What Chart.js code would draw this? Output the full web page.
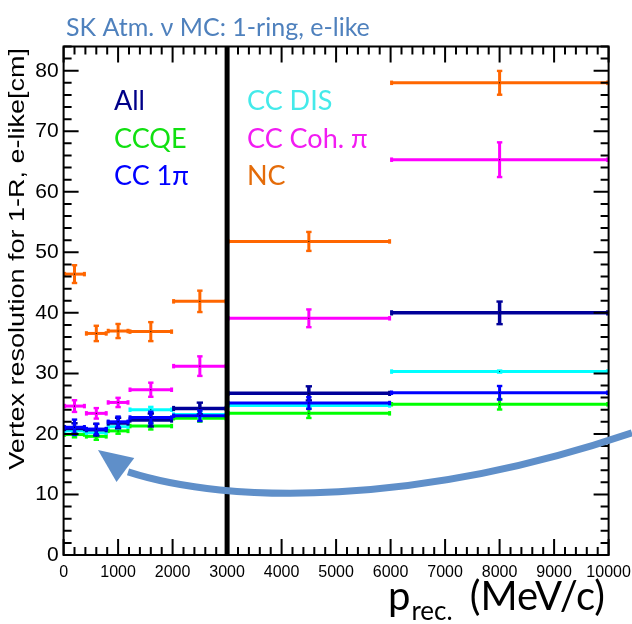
<!DOCTYPE html>
<html>
<head>
<meta charset="utf-8">
<script src="https://cdn.jsdelivr.net/npm/chart.js@4/dist/chart.umd.min.js"></script>
<style>
  html, body { margin: 0; padding: 0; background: #ffffff; }
  #wrap { width: 632px; height: 624px; position: relative; }
</style>
</head>
<body>
<div id="wrap"><canvas id="c" width="632" height="624"></canvas></div>
<script>
// Reconstructed-momentum bins (MeV/c)
const binLow    = [0, 400, 800, 1200, 2000, 3000, 6000];
const binHigh   = [400, 800, 1200, 2000, 3000, 6000, 10000];
const binCenter = [200, 600, 1000, 1600, 2500, 4500, 8000];

// Vertex resolution per interaction mode (cm) and its uncertainty
const allVal   = [20.9, 20.7, 21.8, 22.3, 24.2, 26.7, 40.0];
const allErr   = [0.9, 1.0, 0.9, 1.1, 1.0, 1.2, 1.9];
const ccqeVal  = [19.9, 19.6, 20.5, 21.3, 22.6, 23.4, 24.9];
const ccqeErr  = [0.5, 0.6, 0.5, 0.6, 0.6, 0.8, 0.9];
const cc1piVal = [21.1, 20.8, 22.0, 22.7, 23.0, 25.1, 26.8];
const cc1piErr = [1.3, 0.9, 0.9, 1.0, 0.9, 1.0, 1.15];
const ccdisVal = [20.5, 20.2, 21.2, 24.0, 23.2, 24.7, 30.3];
const ccdisErr = [0.4, 0.4, 0.4, 0.5, 0.5, 0.3, 0.2];
const cohVal   = [24.6, 23.4, 25.2, 27.3, 31.2, 39.1, 65.3];
const cohErr   = [1.0, 0.9, 0.8, 1.2, 1.65, 1.5, 2.9];
const ncVal    = [46.4, 36.6, 37.0, 36.9, 41.9, 51.8, 78.0];
const ncErr    = [1.5, 1.3, 1.2, 1.6, 1.8, 1.6, 2.0];

// Axis ticks
const xTicks = [0, 1000, 2000, 3000, 4000, 5000, 6000, 7000, 8000, 9000, 10000];
const yTicks = [0, 10, 20, 30, 40, 50, 60, 70, 80];
const xMinorStep = 200;
const yMinorStep = 2;
const xMax = 10000;
const yMax = 84;

// Momentum at which the sample is split
const splitMomentum = 3000;

// Curved call-out arrow, in axis units: start, two control points, shaft end, tip
const arrowPath = [
  { x: 10429, y: 20.17 },
  { x: 6539,  y: 8.26 },
  { x: 3053,  y: 8.26 },
  { x: 1182,  y: 13.72 },
  { x: 631,   y: 17.36 }
];

const legendItems = [
  { text: 'All',        color: '#000088' },
  { text: 'CCQE',       color: '#11e011' },
  { text: 'CC 1\u03c0', color: '#0000ff' },
  { text: 'CC DIS',     color: '#44eaea' },
  { text: 'CC Coh. \u03c0', color: '#f21cf2' },
  { text: 'NC',         color: '#e46c0a' }
];

function series(label, vals, errs, color, width) {
  return {
    label: label,
    data: binCenter.map((x, i) => ({ x: x, y: vals[i], xMin: binLow[i], xMax: binHigh[i], yErr: errs[i] })),
    borderColor: color,
    backgroundColor: color,
    borderWidth: width,
    pointRadius: 0,
    showLine: false
  };
}

// Horizontal bin-width bars plus vertical error bars with small caps
const errorBars = {
  id: 'errorBars',
  afterDatasetsDraw(chart) {
    const ctx = chart.ctx, xs = chart.scales.x, ys = chart.scales.y;
    chart.data.datasets.forEach(ds => {
      const w = ds.borderWidth;
      ctx.save();
      ctx.strokeStyle = ds.borderColor;
      ctx.fillStyle = ds.borderColor;
      ctx.lineWidth = w;
      ctx.lineCap = 'butt';
      ds.data.forEach(p => {
        const x0 = xs.getPixelForValue(p.xMin);
        const x1 = xs.getPixelForValue(p.xMax);
        const xc = xs.getPixelForValue(p.x);
        const y  = ys.getPixelForValue(p.y);
        const yt = ys.getPixelForValue(p.y + p.yErr);
        const yb = ys.getPixelForValue(p.y - p.yErr);
        ctx.beginPath();
        ctx.moveTo(x0, y); ctx.lineTo(x1, y);
        ctx.stroke();
        // end marks on the bin bar
        ctx.fillRect(x0 - 0.5, y - w * 0.75, 3, w * 1.5);
        ctx.fillRect(x1 - 2.5, y - w * 0.75, 3, w * 1.5);
        // vertical error bar
        ctx.beginPath();
        ctx.moveTo(xc, yt); ctx.lineTo(xc, yb);
        ctx.stroke();
        ctx.fillRect(xc - w * 0.9, yt - 1, w * 1.8, 2.4);
        ctx.fillRect(xc - w * 0.9, yb - 1.4, w * 1.8, 2.4);
        // centre dot
        ctx.fillStyle = '#000';
        ctx.fillRect(xc - 0.5, y - 0.5, 1, 1);
        ctx.fillStyle = ds.borderColor;
      });
      ctx.restore();
    });
  }
};

// Split line, frame with inward ticks, texts and the call-out arrow
const decorations = {
  id: 'decorations',
  afterDraw(chart) {
    const ctx = chart.ctx, xs = chart.scales.x, ys = chart.scales.y;
    const a = chart.chartArea;
    ctx.save();

    // split line
    const xs3 = xs.getPixelForValue(splitMomentum);
    ctx.strokeStyle = '#000';
    ctx.lineWidth = 5;
    ctx.beginPath(); ctx.moveTo(xs3, a.top); ctx.lineTo(xs3, a.bottom); ctx.stroke();

    // frame
    ctx.lineWidth = 2;
    ctx.strokeRect(a.left, a.top, a.right - a.left, a.bottom - a.top);

    // x ticks (bottom and top)
    ctx.lineWidth = 2;
    ctx.beginPath();
    for (let v = 0; v <= xMax; v += xMinorStep) {
      const px = xs.getPixelForValue(v);
      const len = (v % 1000 === 0) ? 16 : 8;
      ctx.moveTo(px, a.bottom); ctx.lineTo(px, a.bottom - len);
      ctx.moveTo(px, a.top);    ctx.lineTo(px, a.top + len);
    }
    // y ticks (left and right)
    for (let v = 0; v <= yMax; v += yMinorStep) {
      const py = ys.getPixelForValue(v);
      const len = (v % 10 === 0) ? 15 : 8;
      ctx.moveTo(a.left, py);  ctx.lineTo(a.left + len, py);
      ctx.moveTo(a.right, py); ctx.lineTo(a.right - len, py);
    }
    ctx.stroke();

    // y-axis title, end-aligned at the top of the axis
    ctx.save();
    ctx.translate(18, 48);
    ctx.rotate(-Math.PI / 2);
    ctx.scale(1, 0.8);
    ctx.font = '27px "Liberation Sans", Arial, sans-serif';
    ctx.fillStyle = '#000';
    ctx.textAlign = 'right';
    ctx.textBaseline = 'middle';
    ctx.fillText('Vertex resolution for 1-R, e-like[cm]', 0, 0);
    ctx.restore();

    // title
    ctx.font = '25px Lato, "Open Sans", sans-serif';
    ctx.fillStyle = '#4f81bd';
    ctx.textAlign = 'left';
    ctx.textBaseline = 'alphabetic';
    ctx.fillText('SK Atm. \u03bd MC: 1-ring, e-like', 66, 36);

    // legend as coloured labels in two columns
    ctx.font = '27px Lato, "Open Sans", sans-serif';
    const colX = [114, 247];
    const rowY = [110, 148, 185];
    legendItems.forEach((it, i) => {
      ctx.fillStyle = it.color;
      ctx.fillText(it.text, colX[Math.floor(i / 3)], rowY[i % 3]);
    });

    // x-axis title with subscript
    ctx.fillStyle = '#000';
    ctx.font = '40px Lato, "Open Sans", sans-serif';
    ctx.fillText('p', 388, 610);
    const pw = ctx.measureText('p').width;
    ctx.font = '26px Lato, "Open Sans", sans-serif';
    ctx.fillText('rec.', 388 + pw + 1, 620);
    ctx.font = '40px Lato, "Open Sans", sans-serif';
    ctx.textAlign = 'right';
    ctx.fillText('(MeV/c)', 605, 610);

    // call-out arrow
    const P = arrowPath.map(q => ({ x: xs.getPixelForValue(q.x), y: ys.getPixelForValue(q.y) }));
    ctx.strokeStyle = '#5f8fc9';
    ctx.fillStyle = '#5f8fc9';
    ctx.lineWidth = 7;
    ctx.lineCap = 'butt';
    ctx.beginPath();
    ctx.moveTo(P[0].x, P[0].y);
    ctx.bezierCurveTo(P[1].x, P[1].y, P[2].x, P[2].y, P[3].x, P[3].y);
    ctx.stroke();
    const tip = P[4], base = P[3];
    const dx = tip.x - base.x, dy = tip.y - base.y;
    const L = Math.hypot(dx, dy), ux = dx / L, uy = dy / L;
    const hw = 15;
    const bx = tip.x - ux * 34, by = tip.y - uy * 34;
    ctx.beginPath();
    ctx.moveTo(tip.x, tip.y);
    ctx.lineTo(bx - uy * hw, by + ux * hw);
    ctx.lineTo(bx + uy * hw, by - ux * hw);
    ctx.closePath();
    ctx.fill();

    ctx.restore();
  }
};

new Chart(document.getElementById('c'), {
  type: 'scatter',
  data: {
    datasets: [
      series('CCQE', ccqeVal, ccqeErr, '#00ff00', 3),
      series('CC DIS', ccdisVal, ccdisErr, '#00ffff', 3),
      series('All', allVal, allErr, '#000099', 3.5),
      series('CC 1\u03c0', cc1piVal, cc1piErr, '#0000ff', 3),
      series('CC Coh. \u03c0', cohVal, cohErr, '#ff00ff', 3),
      series('NC', ncVal, ncErr, '#ff6600', 3)
    ]
  },
  options: {
    responsive: false,
    animation: false,
    events: [],
    layout: { padding: { left: 0, right: 23.4, top: 46.5, bottom: 0 } },
    plugins: { legend: { display: false }, tooltip: { enabled: false }, title: { display: false } },
    scales: {
      x: {
        type: 'linear', min: 0, max: xMax,
        afterBuildTicks: s => { s.ticks = xTicks.map(v => ({ value: v })); },
        afterFit: s => { s.height = 69; s.paddingLeft = 0; s.paddingRight = 0; },
        grid: { display: false, drawTicks: false },
        border: { display: false },
        ticks: {
          autoSkip: false, maxRotation: 0, minRotation: 0, padding: 8, color: '#000',
          callback: v => String(v),
          font: { family: '"Liberation Sans", Arial, sans-serif', size: 16 }
        }
      },
      y: {
        type: 'linear', min: 0, max: yMax,
        afterBuildTicks: s => { s.ticks = yTicks.map(v => ({ value: v })); },
        afterFit: s => { s.width = 63.6; s.paddingTop = 0; s.paddingBottom = 0; },
        grid: { display: false, drawTicks: false },
        border: { display: false },
        ticks: {
          padding: 5, color: '#000',
          callback: v => String(v),
          font: { family: '"Liberation Sans", Arial, sans-serif', size: 21 }
        }
      }
    }
  },
  plugins: [errorBars, decorations]
});
</script>
</body>
</html>
